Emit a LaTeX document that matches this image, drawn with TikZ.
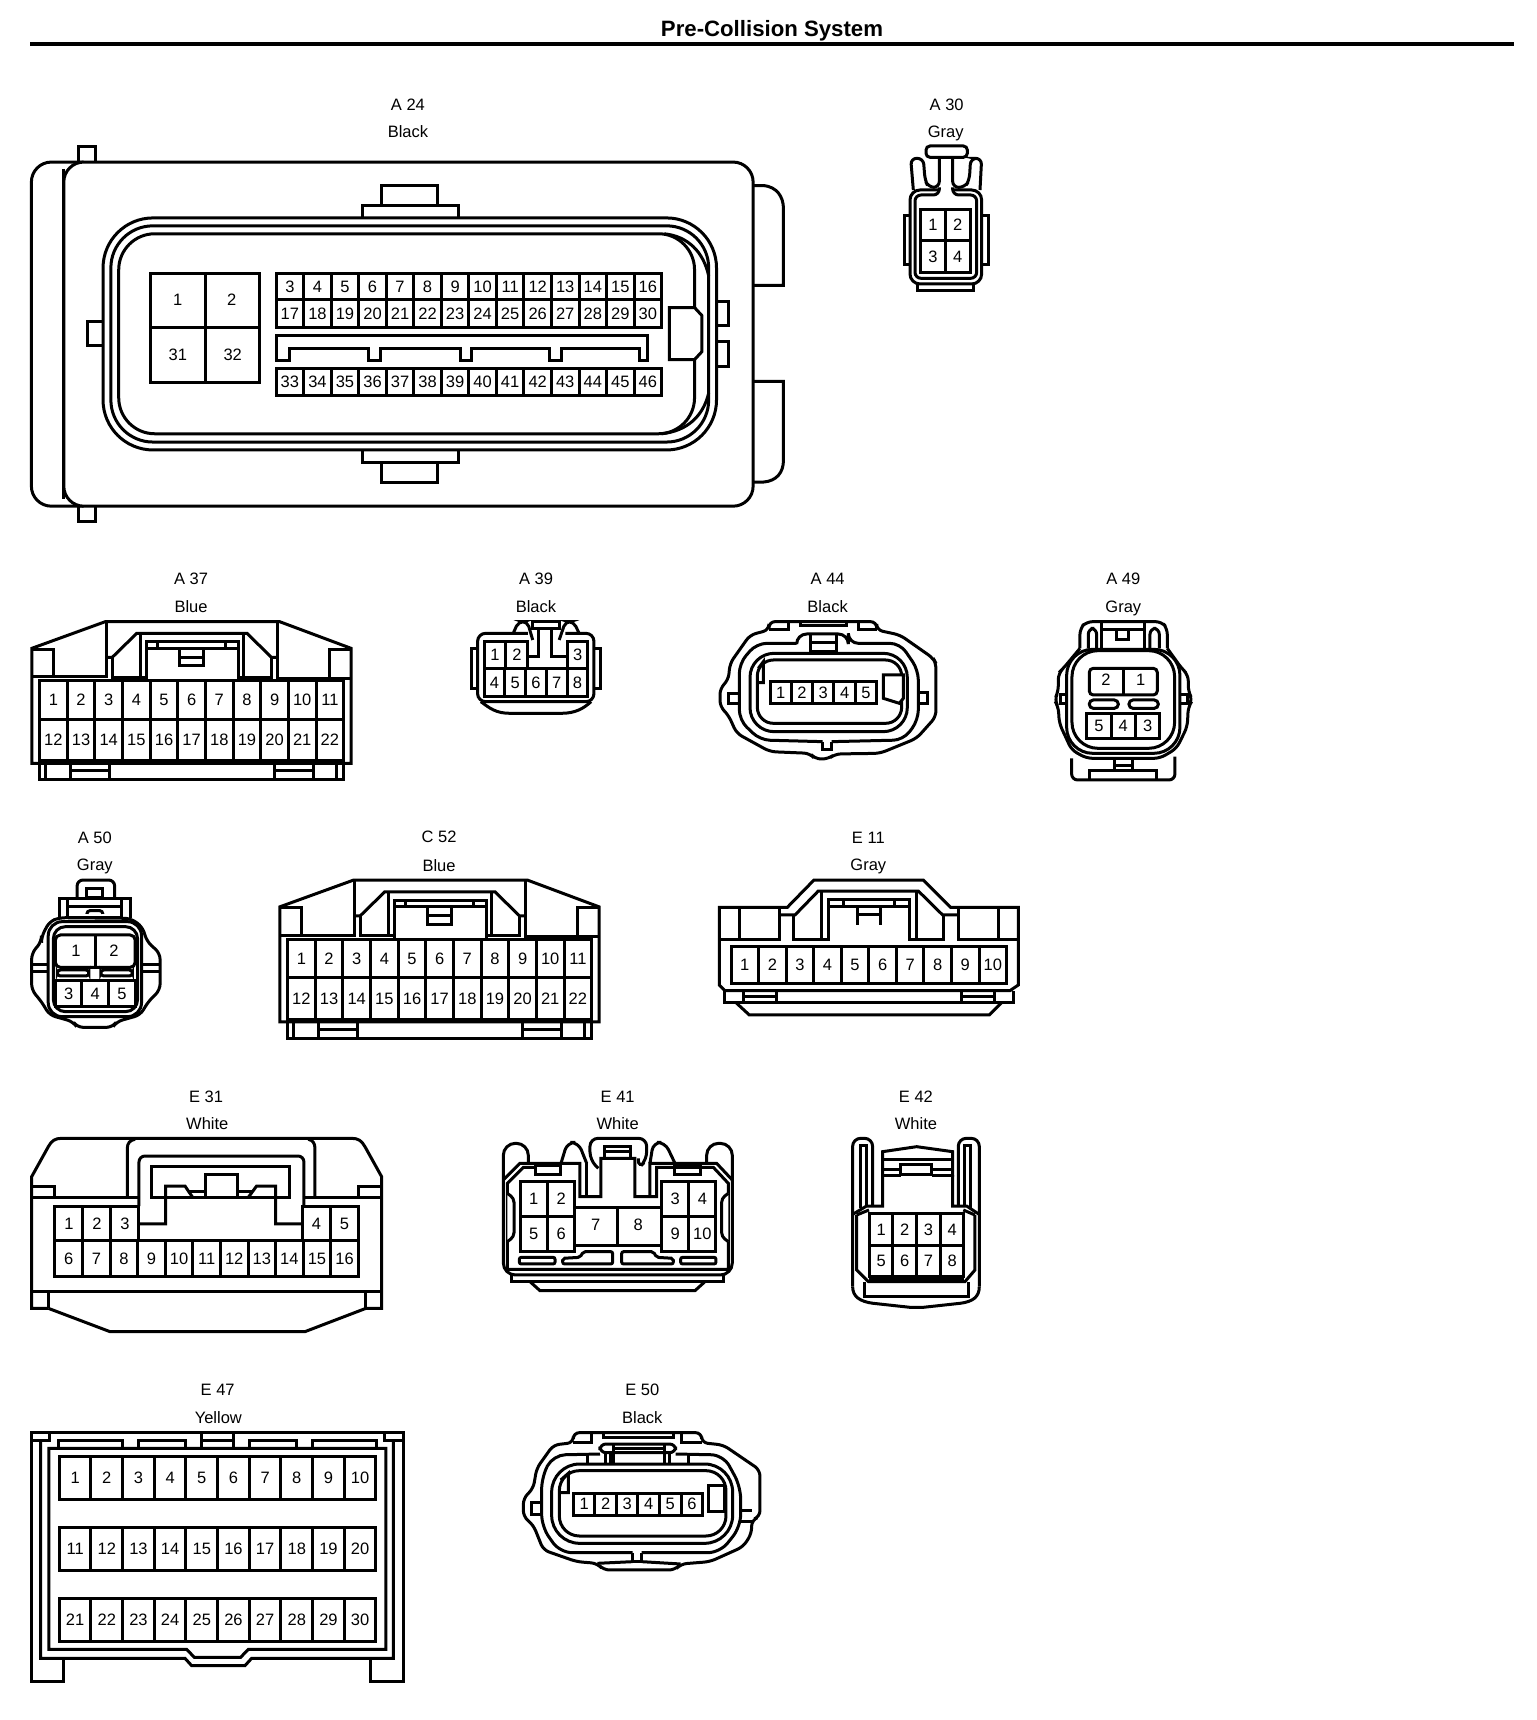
\documentclass[tikz,border=0pt]{standalone}
\usepackage{fontspec}
\setmainfont{Liberation Sans}
\tikzset{
 ln/.style={line width=3pt,line join=miter,line cap=butt},
 pinlabel/.style={inner sep=0pt,font=\fontsize{16.5}{18}\selectfont},
 caption/.style={inner sep=0pt,font=\fontsize{16.5}{18}\selectfont},
 zoomA/.style={x=0.3333pt,y=-0.3333pt},
}
\newcommand{\pins}[6]{%
 \draw[ln] (#1,#2) rectangle (#3,#4);
 \foreach \l [count=\c] in {#6}{%
  \pgfmathsetmacro\xa{#1+(#3-#1)*(\c-1)/#5}%
  \pgfmathsetmacro\xb{#1+(#3-#1)*\c/#5}%
  \ifnum\c>1 \draw[ln] (\xa,#2)--(\xa,#4);\fi
  \node[pinlabel] (p\l) at ({(\xa+\xb)/2},{(#2+#4)/2}) {\l};
 }}
\newcommand{\bluecon}[1]{%
 \node[caption] (cap) at (468,56) {#1};
 \draw[ln] (78,610)--(78,265)--(258,185)--(685,185)--(860,265)--(860,610)--cycle;
 \draw[ln] (78,350)--(262,350)--(262,185) (680,185)--(680,355)--(860,355);
 \draw[ln] (78,268)--(132,268)--(132,350) (860,268)--(808,268)--(808,350);
 \draw[ln] (262,292)--(275,292)--(335,220)--(605,220)--(665,292)--(680,292);
 \draw[ln] (275,292)--(275,352)--(358,352) (665,292)--(665,352)--(585,352);
 \draw[ln] (345,220)--(345,352) (597,220)--(597,352);
 \draw[ln] (358,358)--(358,245)--(585,245)--(585,358);
 \draw[ln] (358,265)--(585,265) (385,245)--(385,265) (552,245)--(552,265);
 \draw[ln] (440,265)--(440,318)--(498,318)--(498,265) (440,292)--(498,292);
 \pins{97}{362}{842}{478}{11}{1,...,11}
 \pins{97}{478}{842}{603}{11}{12,...,22}
 \draw[ln] (97,610)--(97,660)--(842,660)--(842,610) (112,610)--(112,660) (825,610)--(825,660);
 \draw[ln] (172,610)--(172,660) (268,610)--(268,660) (172,632)--(268,632);
 \draw[ln] (672,610)--(672,660) (768,610)--(768,660) (672,632)--(768,632);
}
\begin{document}
\begin{tikzpicture}[x=1pt,y=-1pt]
\useasboundingbox (0,0) rectangle (1536,1720);
\fill[white] (0,0) rectangle (1536,1720);
% title
\node[inner sep=0pt,font=\fontsize{22.2}{24}\selectfont\bfseries] (title) at (772,30.5) {Pre-Collision System};
\coordinate (ruleL) at (30,44); \coordinate (ruleR) at (1514,44);
\draw[line width=3.6pt] (ruleL)--(ruleR);

% A24
\begin{scope}[name prefix=A24-,x=0.523pt,y=-0.3448pt]
 \node[caption] (c1) at (780,303) {A 24};
 \node[caption] (c2) at (780,383) {Black};
 \draw[ln] (150,470)--(150,424)--(183,424)--(183,470) (150,1468)--(150,1512)--(183,1512)--(183,1468);
 \draw[ln,rounded corners=20pt] (160,470)--(60,470)--(60,1468)--(160,1468);
 \draw[ln,fill=white,rounded corners=20pt] (122,470) rectangle (1440,1468);
 \draw[ln] (122,490)--(122,1448);
 \draw[ln] (1440,538)--(1460,538) .. controls (1485,542) and (1498,570) .. (1498,605)--(1498,828)--(1440,828);
 \draw[ln] (1440,1106)--(1498,1106)--(1498,1335) .. controls (1498,1370) and (1485,1395) .. (1460,1398)--(1440,1398);
 \draw[ln] (730,595)--(730,538)--(836,538)--(836,595) (693,632)--(693,595)--(876,595)--(876,632);
 \draw[ln] (730,1340)--(730,1398)--(836,1398)--(836,1340) (693,1305)--(693,1340)--(876,1340)--(876,1305);
 \draw[ln] (197,932)--(167,932)--(167,1003)--(197,1003);
 \draw[ln] (1372,875)--(1393,875)--(1393,945)--(1372,945) (1372,990)--(1393,990)--(1393,1062)--(1372,1062);
 \draw[ln,rounded corners=50pt] (197,632) rectangle (1370,1305);
 \draw[ln,rounded corners=42pt] (212,655) rectangle (1355,1282);
 \draw[ln,rounded corners=36pt] (227,678) rectangle (1328,1258);
 \draw[ln] (1270,678) .. controls (1315,685) and (1345,730) .. (1355,800);
 \draw[ln] (1265,1258) .. controls (1315,1250) and (1345,1205) .. (1355,1140);
 \draw[ln,fill=white] (1280,892)--(1328,892)--(1342,915)--(1342,1020)--(1328,1043)--(1280,1043)--cycle;
 \draw[ln] (287,792) rectangle (497,1110) (393,792)--(393,1110) (287,950)--(497,950);
 \node[pinlabel] (p1) at (340,870) {1};
 \node[pinlabel] (p2) at (443,870) {2};
 \node[pinlabel] (p31) at (340,1028) {31};
 \node[pinlabel] (p32) at (445,1028) {32};
 \pins{528}{792}{1265}{870}{14}{3,...,16}
 \pins{528}{870}{1265}{950}{14}{17,...,30}
 \pins{528}{1068}{1265}{1146}{14}{33,...,46}
 \draw[ln] (528,1045)--(528,972)--(1238,972)--(1238,1045)--(1222,1045)--(1222,1010)--(1073,1010)--(1073,1045)--(1050,1045)--(1050,1010)--(902,1010)--(902,1045)--(880,1045)--(880,1010)--(727,1010)--(727,1045)--(704,1045)--(704,1010)--(553,1010)--(553,1045)--cycle;
\end{scope}

% A30
\begin{scope}[name prefix=A30-,shift={(880,80)},zoomA]
 \node[caption] (c1) at (200,74) {A 30};
 \node[caption] (c2) at (197,160) {Gray};
 \draw[ln,rounded corners=4pt] (138,198) rectangle (262,232);
 \draw[ln,rounded corners=6pt] (100,330)--(92,235)--(130,235)--(135,300)--(145,322)--(178,322)--(178,232);
 \draw[ln,rounded corners=6pt] (300,330)--(305,235)--(272,235)--(268,300)--(255,322)--(218,322)--(218,232);
 \draw[ln,rounded corners=10pt] (178,330)--(90,330)--(90,612)--(305,612)--(305,330)--(218,330);
 \draw[ln,rounded corners=6pt] (178,322)--(178,345)--(105,345)--(105,595)--(290,595)--(290,345)--(218,345)--(218,322);
 \pins{122}{388}{270}{483}{2}{1,2}
 \pins{122}{483}{270}{578}{2}{3,4}
 \draw[ln] (90,408)--(72,408)--(72,555)--(90,555) (305,408)--(325,408)--(325,555)--(305,555);
 \draw[ln] (113,612)--(113,632)--(280,632)--(280,612);
\end{scope}

% A37 + A39
\begin{scope}[name prefix=A37-,shift={(0,560)},x=0.4082pt,y=-0.3333pt]
 \bluecon{A 37}
 \node[caption] (c2) at (468,140) {Blue};
\end{scope}
\begin{scope}[name prefix=A39-,shift={(0,560)},x=0.4082pt,y=-0.3333pt]
 \node[caption] (c1) at (1313,55) {A 39};
 \node[caption] (c2) at (1313,139) {Black};
 \draw[ln,rounded corners=8pt] (1293,220)--(1170,220)--(1170,425)--(1455,425)--(1455,220)--(1385,220);
 \draw[ln] (1293,245)--(1293,290)--(1318,290)--(1318,205);
 \draw[ln] (1350,205)--(1350,290)--(1390,290)--(1390,245);
 \draw[ln] (1305,205)--(1305,185)--(1370,185)--(1370,205)--cycle;
 \draw[ln,rounded corners=5pt] (1258,218)--(1270,185)--(1292,185)--(1305,240);
 \draw[ln,rounded corners=5pt] (1418,218)--(1405,185)--(1385,185)--(1370,240);
 \draw[ln] (1168,265)--(1155,265)--(1155,385)--(1168,385) (1457,265)--(1470,265)--(1470,385)--(1457,385);
 \pins{1186}{245}{1293}{325}{2}{1,2}
 \pins{1390}{245}{1440}{325}{1}{3}
 \pins{1186}{325}{1440}{410}{5}{4,...,8}
 \draw[ln] (1178,425) .. controls (1200,445) and (1215,460) .. (1250,460)--(1375,460) .. controls (1410,460) and (1430,445) .. (1448,425);
\end{scope}

% A44
\begin{scope}[name prefix=A44-,shift={(700,560)},zoomA]
 \node[caption] (c1) at (383,55) {A 44};
 \node[caption] (c2) at (383,139) {Black};
 \draw[ln,rounded corners=6pt] (207,210)--(207,185)--(530,185)--(530,210)--(600,225)--(700,295)--(708,310)--(708,470)--(650,535)--(540,580)--(405,582)--(385,597)--(345,597)--(330,580)--(210,575)--(110,520)--(85,465)--(60,440)--(60,385)--(85,360)--(90,310)--(150,225)--cycle;
 \draw[ln] (207,210)--(265,210)--(265,188) (475,188)--(475,210)--(530,210);
 \draw[ln] (300,188)--(300,197)--(440,197)--(440,188);
 \draw[ln,rounded corners=10pt] (290,250)--(290,222)--(445,222)--(445,250)--(600,250)--(655,330)--(655,480)--(610,540)--(395,545);
 \draw[ln,rounded corners=10pt] (290,250)--(170,250)--(118,310)--(118,480)--(180,540)--(368,545);
 \draw[ln] (368,545)--(368,570)--(395,570)--(395,545);
 \draw[ln,rounded corners=24pt] (150,280) rectangle (622,515);
 \draw[ln,rounded corners=16pt] (172,300) rectangle (605,490);
 \draw[ln] (175,325)--(190,305)--(190,368)--(175,368);
 \draw[ln,fill=white] (550,345)--(610,345)--(610,415)--(598,430)--(550,415)--cycle;
 \pins{210}{365}{530}{430}{5}{1,...,5}
 \draw[ln] (330,225)--(330,278) (410,225)--(410,278) (330,247)--(410,247) (330,276)--(410,276);
 \draw[ln] (118,400)--(85,400)--(85,430)--(118,430) (655,397)--(682,397)--(682,430)--(655,430);
\end{scope}

% A49
\begin{scope}[name prefix=A49-,shift={(700,560)},zoomA]
 \node[caption] (c1) at (1270,55) {A 49};
 \node[caption] (c2) at (1270,145) {Gray};
 \draw[ln,rounded corners=6pt] (1140,265)--(1140,205)--(1160,185)--(1385,185)--(1402,205)--(1402,265);
 \draw[ln,rounded corners=6pt] (1165,265)--(1165,205)--(1190,205)--(1190,265) (1350,265)--(1350,205)--(1378,205)--(1378,265);
 \draw[ln] (1205,188)--(1205,265) (1335,188)--(1335,265) (1205,210)--(1335,210);
 \draw[ln] (1250,210)--(1250,238)--(1285,238)--(1285,210);
 \draw[ln,rounded corners=6pt] (1140,265)--(1090,325)--(1075,340)--(1075,395)--(1063,420)--(1075,440)--(1078,490)--(1115,570)--(1160,595)--(1380,595)--(1430,565)--(1462,500)--(1465,440)--(1478,420)--(1465,395)--(1465,345)--(1445,325)--(1402,265);
 \draw[ln,rounded corners=26pt] (1100,268) rectangle (1440,580);
 \draw[ln,rounded corners=26pt] (1116,272) rectangle (1424,565);
 \draw[ln] (1100,405)--(1082,405)--(1082,432)--(1100,432) (1440,405)--(1462,405)--(1462,432)--(1440,432);
 \draw[ln,rounded corners=4pt] (1168,405)--(1168,325)--(1372,325)--(1372,405)--cycle;
 \draw[ln] (1270,325)--(1270,405);
 \node[pinlabel] (p2) at (1218,360) {2};
 \node[pinlabel] (p1) at (1322,360) {1};
 \draw[ln,rounded corners=4pt] (1168,420) rectangle (1255,445) (1287,420) rectangle (1375,445);
 \pins{1160}{460}{1380}{535}{3}{5,4,3}
 \draw[ln,rounded corners=6pt] (1115,595)--(1115,660)--(1425,660)--(1425,590);
 \draw[ln] (1170,660)--(1170,632)--(1370,632)--(1370,660);
 \draw[ln] (1245,600)--(1245,632) (1298,600)--(1298,632) (1245,618)--(1298,618);
\end{scope}

% C52
\begin{scope}[name prefix=C52-,shift={(248,818.5)},x=0.4082pt,y=-0.3333pt]
 \bluecon{C 52}
 \node[caption] (c2) at (468,140) {Blue};
\end{scope}

% A50
\begin{scope}[name prefix=A50-,shift={(0,820)},x=0.3953pt,y=-0.3333pt]
 \node[caption] (c1) at (240,52) {A 50};
 \node[caption] (c2) at (240,138) {Gray};
 \draw[ln,rounded corners=6pt] (195,235)--(195,180)--(290,180)--(290,235);
 \draw[ln] (220,205) rectangle (260,232);
 \draw[ln] (150,295)--(150,235)--(330,235)--(330,295) (172,240)--(172,290) (308,240)--(308,290) (172,260)--(308,260);
 \draw[ln,rounded corners=3pt] (220,282)--(220,272)--(260,272)--(260,282);
 \draw[ln,rounded corners=6pt] (150,293)--(125,305)--(105,350)--(105,365)--(80,400)--(80,510)--(105,545)--(125,585)--(185,605)--(195,622)--(285,622)--(295,605)--(355,585)--(375,545)--(405,510)--(405,400)--(372,365)--(360,320)--(330,295)--cycle;
 \draw[ln,rounded corners=14pt] (122,305) rectangle (358,590);
 \draw[ln,rounded corners=12pt] (135,320) rectangle (348,575);
 \draw[ln] (172,292)--(308,292);
 \draw[ln] (80,435)--(122,435) (80,455)--(122,455) (358,435)--(405,435) (358,455)--(405,455);
 \draw[ln,rounded corners=5pt] (140,442)--(140,345)--(342,345)--(342,442)--cycle;
 \draw[ln] (242,345)--(242,442);
 \node[pinlabel] (p1) at (192,393) {1};
 \node[pinlabel] (p2) at (288,393) {2};
 \draw[ln,rounded corners=3pt] (145,450) rectangle (225,468) (255,450) rectangle (335,468);
 \pins{140}{483}{342}{560}{3}{3,4,5}
\end{scope}

% E11
\begin{scope}[name prefix=E11-,shift={(700,820)},zoomA]
 \node[caption] (c1) at (505,52) {E 11};
 \node[caption] (c2) at (505,138) {Gray};
 \draw[ln] (58,495)--(58,262)--(262,262)--(342,180)--(670,180)--(752,262)--(955,262)--(955,495)--(930,512)--(75,512)--cycle;
 \draw[ln] (118,262)--(118,358) (895,262)--(895,358);
 \draw[ln] (58,358)--(238,358)--(238,262) (775,262)--(775,358)--(955,358);
 \draw[ln] (238,285)--(285,285)--(355,213)--(655,213)--(728,285)--(775,285);
 \draw[ln] (280,285)--(280,358)--(385,358)--(385,238)--(630,238)--(630,358)--(730,358)--(730,285);
 \draw[ln] (365,213)--(365,358) (650,213)--(650,358);
 \draw[ln] (385,260)--(630,260) (430,238)--(430,260) (585,238)--(585,260);
 \draw[ln] (472,265)--(472,315) (542,265)--(542,315) (472,285)--(542,285);
 \pins{93}{380}{920}{490}{10}{1,...,10}
 \draw[ln] (73,512)--(73,548)--(940,548)--(940,512);
 \draw[ln] (108,548)--(148,585)--(868,585)--(905,548);
 \draw[ln] (130,515)--(130,545) (228,515)--(228,545) (130,530)--(228,530);
 \draw[ln] (785,515)--(785,545) (883,515)--(883,545) (785,530)--(883,530);
\end{scope}

% E31
\begin{scope}[name prefix=E31-,shift={(0,1080)},zoomA]
 \node[caption] (c1) at (618,50) {E 31};
 \node[caption] (c2) at (622,130) {White};
 \draw[ln] (145,685)--(95,685)--(95,290)--(145,200) .. controls (155,182) and (165,175) .. (185,175)--(1055,175) .. controls (1075,175) and (1085,182) .. (1095,200)--(1145,290)--(1145,685)--(1098,685);
 \draw[ln] (1098,685)--(915,755)--(330,755)--(145,685);
 \draw[ln] (95,352)--(417,352) (908,352)--(1145,352);
 \draw[ln] (95,318)--(165,318)--(165,352) (1075,352)--(1075,318)--(1145,318);
 \draw[ln] (382,352)--(382,205) .. controls (382,190) and (390,180) .. (405,178) (945,352)--(945,205) .. controls (945,190) and (938,180) .. (925,178);
 \draw[ln,rounded corners=6pt] (417,378)--(417,228)--(912,228)--(912,378);
 \draw[ln] (455,260) rectangle (868,352);
 \draw[ln] (420,432)--(497,432)--(497,318)--(555,318)--(578,352);
 \draw[ln] (908,432)--(827,432)--(827,318)--(770,318)--(745,352);
 \draw[ln] (565,335)--(618,335) (712,335)--(760,335);
 \draw[ln] (618,352)--(618,283)--(712,283)--(712,352);
 \pins{165}{378}{417}{483}{3}{1,2,3}
 \pins{908}{378}{1075}{483}{2}{4,5}
 \pins{165}{483}{1075}{590}{11}{6,...,16}
 \draw[ln] (95,635)--(1145,635) (145,635)--(145,685) (1098,635)--(1098,685);
\end{scope}

% E41
\begin{scope}[name prefix=E41-,shift={(490,1080)},zoomA]
 \node[caption] (c1) at (383,50) {E 41};
 \node[caption] (c2) at (383,130) {White};
 \draw[ln,rounded corners=12pt] (115,250)--(115,190)--(40,190)--(40,585)--(727,585)--(727,190)--(650,190)--(650,250);
 \draw[ln] (40,300)--(90,250)--(270,250)--(270,350)--(333,350)--(333,235)--(435,235)--(435,350)--(500,350)--(500,262)--(670,262)--(715,310)--(715,568)--(52,568)--(52,310)--(100,262)--(135,262);
 \draw[ln] (480,350)--(480,250)--(680,250)--(727,300);
 \draw[ln] (290,350)--(290,250);
 \draw[ln,rounded corners=8pt] (213,250)--(232,187)--(265,187)--(290,250);
 \draw[ln,rounded corners=8pt] (480,250)--(490,187)--(525,187)--(555,250);
 \draw[ln,rounded corners=8pt] (325,265)--(300,240)--(300,175)--(470,175)--(470,240)--(445,265)--(445,235);
 \draw[ln] (345,232)--(345,200)--(422,200)--(422,232) (345,215)--(422,215);
 \draw[ln] (135,255) rectangle (212,282) (555,255) rectangle (632,282);
 \draw[ln,fill=white,rounded corners=4pt] (52,340)--(72,355)--(72,470)--(52,485);
 \draw[ln,fill=white,rounded corners=4pt] (715,340)--(695,355)--(695,470)--(715,485);
 \pins{90}{305}{255}{410}{2}{1,2}
 \pins{90}{410}{255}{515}{2}{5,6}
 \pins{515}{305}{678}{410}{2}{3,4}
 \pins{515}{410}{678}{515}{2}{9,10}
 \draw[ln] (255,382) rectangle (515,497) (383,382)--(383,497);
 \node[pinlabel] (p7) at (317,435) {7};
 \node[pinlabel] (p8) at (445,435) {8};
 \draw[ln,rounded corners=2pt] (88,532) rectangle (195,552) (572,532) rectangle (678,552);
 \draw[ln,rounded corners=2pt] (218,552)--(218,535)--(270,532)--(280,515)--(368,515)--(368,552)--cycle;
 \draw[ln,rounded corners=2pt] (395,552)--(395,515)--(490,515)--(500,532)--(550,535)--(550,552)--cycle;
 \draw[ln] (65,585)--(65,605)--(700,605)--(700,585);
 \draw[ln] (120,605)--(150,632)--(615,632)--(645,605);
\end{scope}

% E42
\begin{scope}[name prefix=E42-,shift={(490,1080)},zoomA]
 \node[caption] (c1) at (1278,50) {E 42};
 \node[caption] (c2) at (1278,130) {White};
 \draw[ln,rounded corners=8pt] (1088,620)--(1088,175)--(1148,175)--(1148,378);
 \draw[ln,rounded corners=8pt] (1468,620)--(1468,175)--(1405,175)--(1405,378);
 \draw[ln] (1112,385)--(1112,195)--(1130,195)--(1130,378) (1425,378)--(1425,195)--(1443,195)--(1443,385);
 \draw[ln] (1178,290)--(1178,215)--(1280,200)--(1388,215)--(1388,290);
 \draw[ln] (1178,238)--(1388,238) (1178,267)--(1233,267) (1325,267)--(1388,267) (1178,285)--(1233,285) (1325,285)--(1388,285);
 \draw[ln] (1233,252) rectangle (1325,283);
 \draw[ln] (1178,285)--(1178,378)--(1130,378)--(1090,402) (1388,285)--(1388,378)--(1430,378)--(1466,402);
 \draw[ln] (1100,405)--(1137,390) (1455,405)--(1420,390);
 \pins{1138}{400}{1422}{497}{4}{1,...,4}
 \pins{1138}{497}{1422}{590}{4}{5,...,8}
 \draw[ln] (1100,405)--(1100,570)--(1135,605)--(1425,605)--(1455,570)--(1455,405);
 \draw[ln] (1138,595)--(1422,595);
 \draw[ln] (1125,605)--(1125,650)--(1437,650)--(1437,605);
 \draw[ln] (1088,620) .. controls (1088,650) and (1110,665) .. (1150,670)--(1260,682)--(1300,682)--(1410,670) .. controls (1450,665) and (1468,650) .. (1468,620);
\end{scope}

% E47
\begin{scope}[name prefix=E47-,shift={(0,1380)},zoomA]
 \node[caption] (c1) at (653,30) {E 47};
 \node[caption] (c2) at (655,112) {Yellow};
 \draw[ln] (190,835)--(190,905)--(95,905)--(95,158)--(1210,158)--(1210,905)--(1113,905)--(1113,835);
 \draw[ln] (95,180)--(150,180)--(150,160) (1155,160)--(1155,180)--(1210,180);
 \draw[ln] (122,180)--(122,835)--(555,835)--(575,857)--(735,857)--(755,835)--(1180,835)--(1180,180);
 \draw[ln] (147,808)--(147,205)--(1158,205)--(1158,808)--(745,808)--(722,832)--(583,832)--(560,808)--cycle;
 \draw[ln] (177,205)--(177,182)--(368,182)--(368,205) (415,205)--(415,182)--(558,182)--(558,205);
 \draw[ln] (748,205)--(748,182)--(890,182)--(890,205) (937,205)--(937,182)--(1130,182)--(1130,205);
 \draw[ln] (605,205)--(605,160) (700,205)--(700,160) (605,182)--(700,182);
 \pins{178}{230}{1128}{358}{10}{1,...,10}
 \pins{178}{442}{1128}{572}{10}{11,...,20}
 \pins{178}{655}{1128}{785}{10}{21,...,30}
\end{scope}

% E50
\begin{scope}[name prefix=E50-,shift={(510,1380)},zoomA]
 \node[caption] (c1) at (397,30) {E 50};
 \node[caption] (c2) at (397,112) {Black};
 \draw[ln,rounded corners=6pt] (190,188)--(190,158)--(575,158)--(575,188)--(640,195)--(750,270)--(750,410)--(725,420)--(725,460)--(700,500)--(600,545)--(512,552)--(495,570)--(280,570)--(262,550)--(200,545)--(100,510)--(70,435)--(40,410)--(40,355)--(70,325)--(80,265)--(130,195)--cycle;
 \draw[ln] (190,188)--(245,188)--(245,162) (515,162)--(515,188)--(575,188) (282,162)--(282,172)--(490,172)--(490,162);
 \draw[ln,rounded corners=6pt] (270,218)--(270,192)--(497,192)--(497,218)--cycle;
 \draw[ln] (312,192)--(312,250) (465,192)--(465,250) (312,205)--(465,205);
 \draw[ln,rounded corners=12pt] (270,222)--(130,225)--(95,290)--(95,440)--(150,518)--(368,518);
 \draw[ln,rounded corners=12pt] (497,222)--(640,225)--(692,320)--(692,440)--(630,518)--(395,518);
 \draw[ln] (368,518)--(368,545)--(395,545)--(395,518);
 \draw[ln] (262,550)--(368,545) (395,545)--(512,552);
 \draw[ln,rounded corners=28pt] (125,252) rectangle (668,490);
 \draw[ln,rounded corners=20pt] (148,272) rectangle (648,468);
 \draw[ln] (232,222)--(232,252) (288,222)--(288,252) (302,222)--(302,252) (478,222)--(478,252) (535,222)--(535,252);
 \draw[ln] (152,300)--(175,280)--(175,338)--(150,338);
 \draw[ln] (645,315)--(595,315)--(595,395)--(645,395)--cycle;
 \pins{190}{340}{578}{405}{6}{1,...,6}
 \draw[ln] (95,368)--(65,368)--(65,402)--(95,402);
 \draw[ln] (692,392)--(725,392) (692,425)--(725,425);
\end{scope}
\end{tikzpicture}
\end{document}
